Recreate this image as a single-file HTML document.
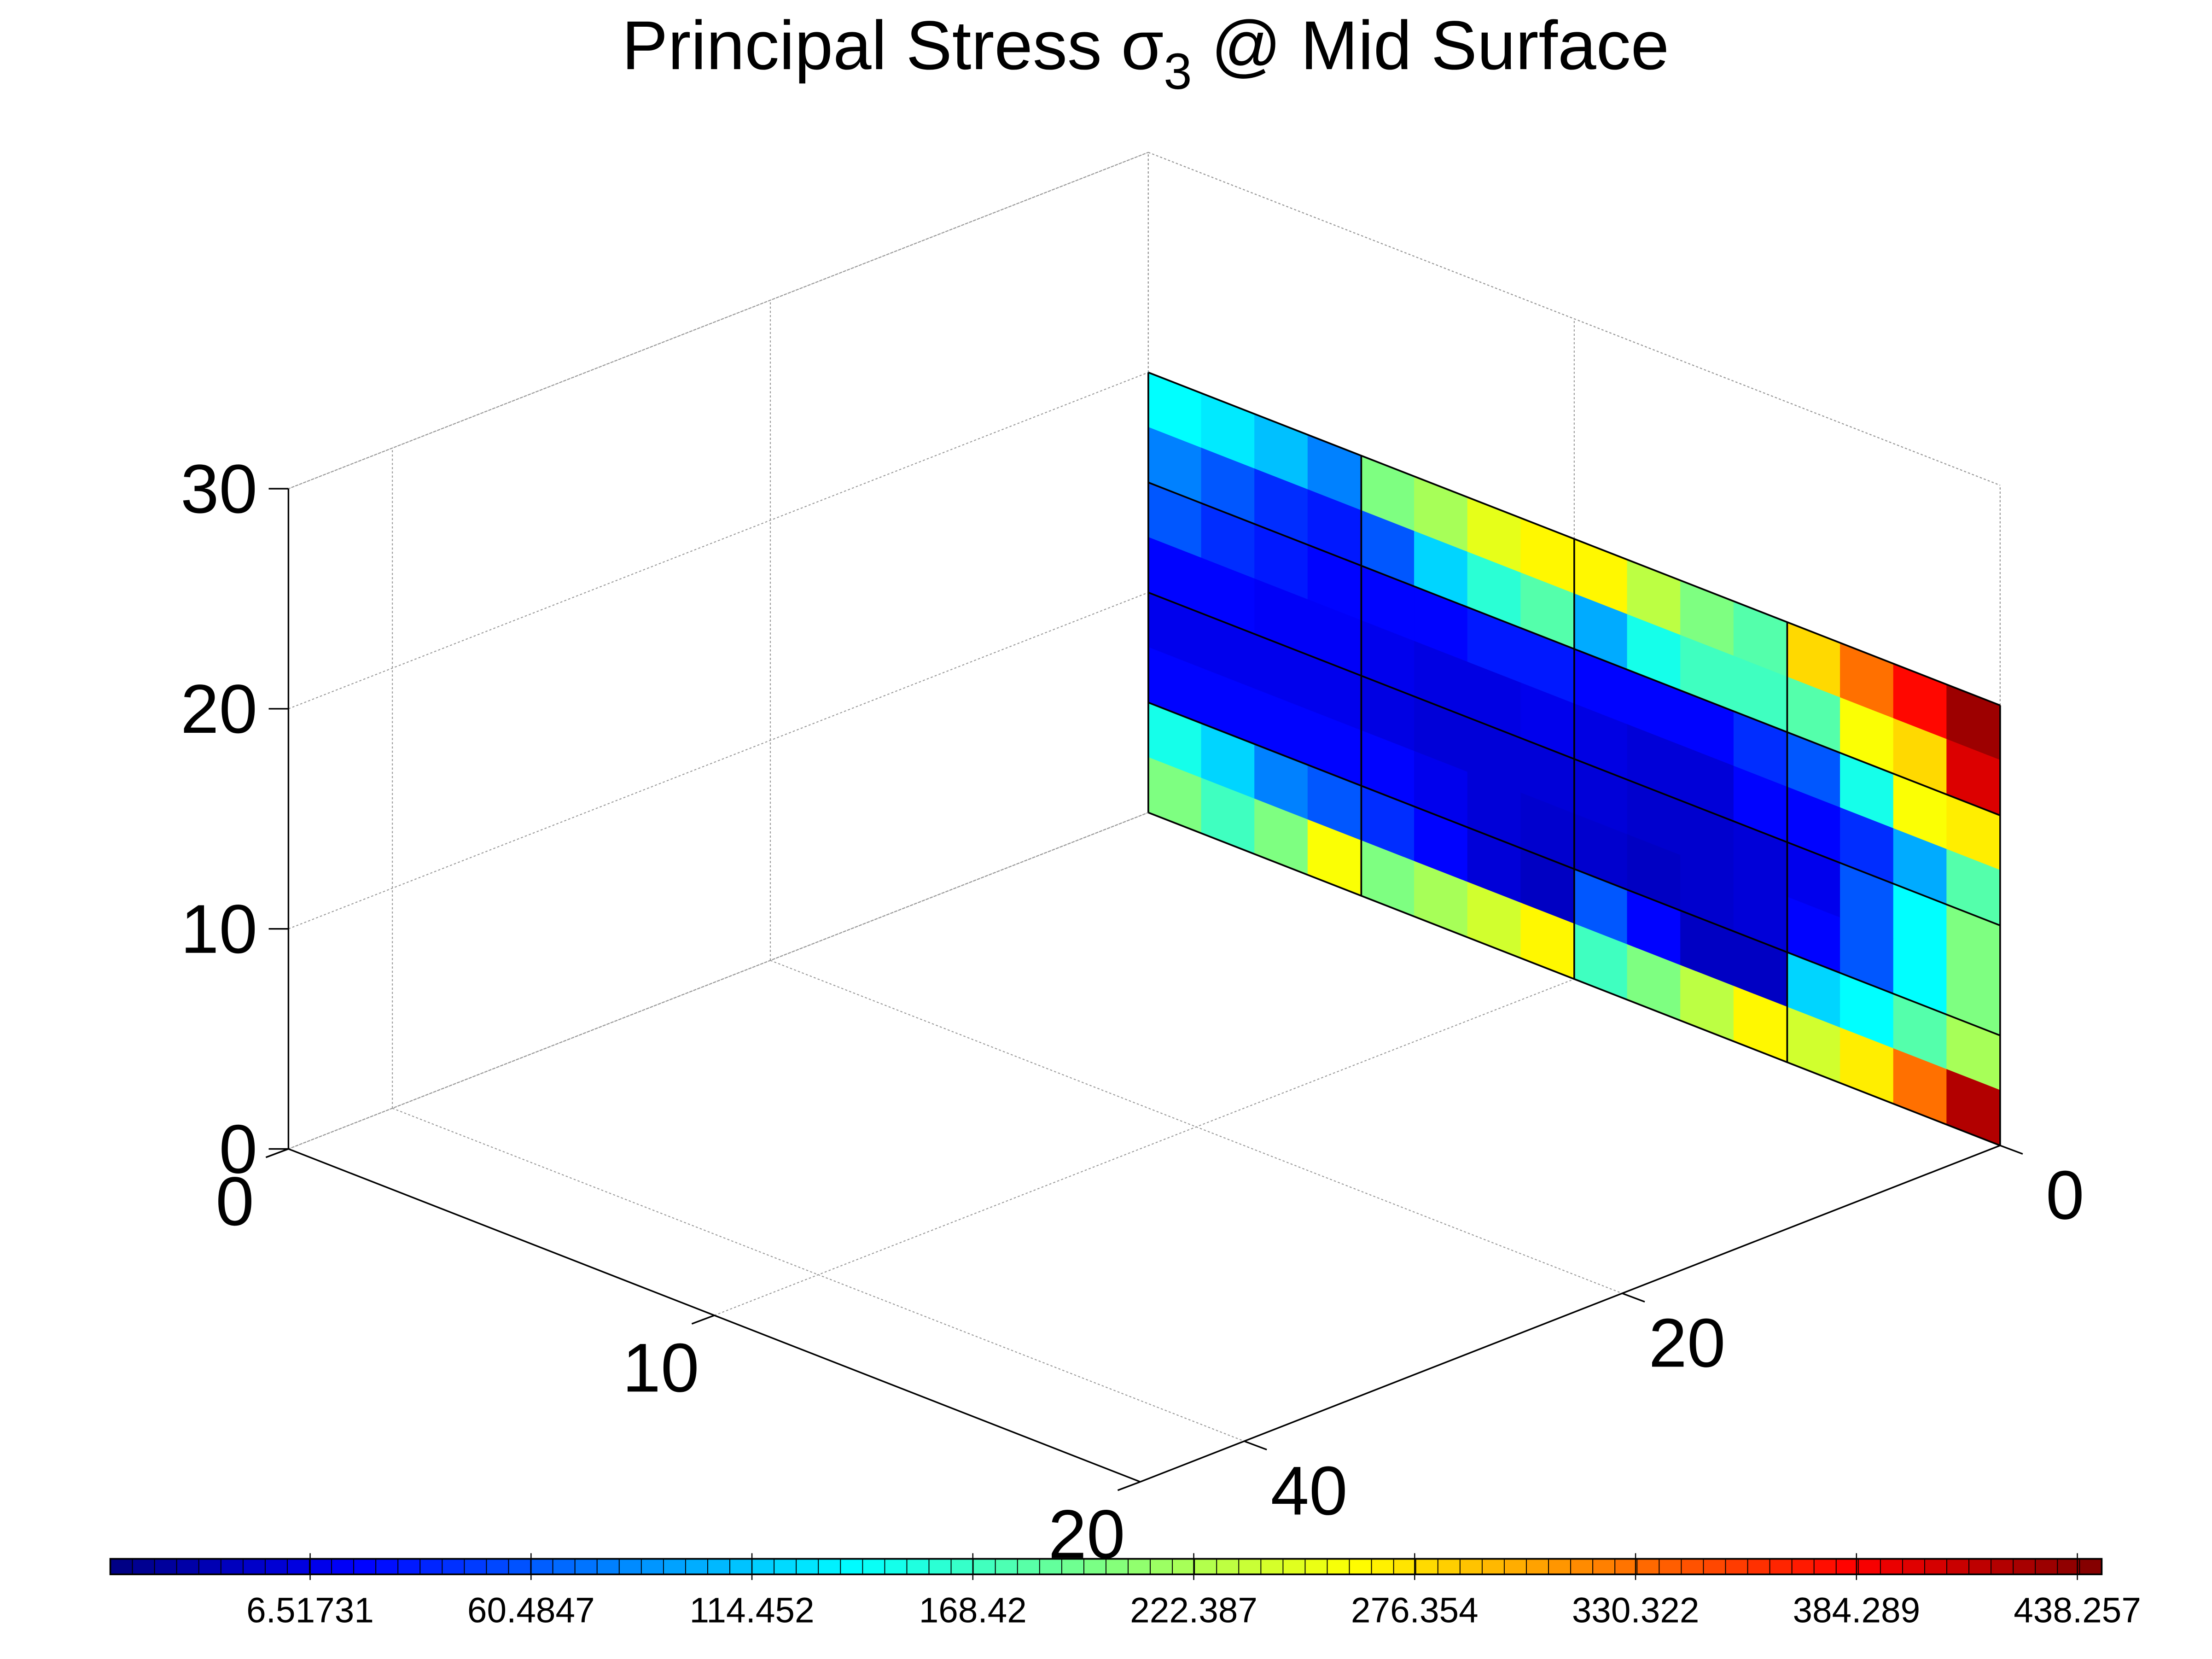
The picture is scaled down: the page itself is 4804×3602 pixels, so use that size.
<!DOCTYPE html>
<html><head><meta charset="utf-8">
<style>
html,body{margin:0;padding:0;background:#fff;}
svg{display:block;}
text{font-family:"Liberation Sans",sans-serif;fill:#000;}
</style></head>
<body>
<svg id="chart" width="4804" height="3602" viewBox="0 0 1568 1176" xmlns="http://www.w3.org/2000/svg">
<rect x="0" y="0" width="1568" height="1176" fill="#fff"/>
<text x="812" y="49" font-size="49" text-anchor="middle">Principal Stress σ<tspan font-size="36" dy="14">3</tspan><tspan dy="-14"> @ Mid Surface</tspan></text>
<g id="grid"></g>
<g id="plate"></g>
<g id="axes"></g>
<g id="cbar"></g>
</svg>
<script>
const xTicks=[0,10,20];
const yTicks=[0,20,40];
const zTicks=[0,10,20,30];
const xMax=20, yMax=45.5, zMax=30;
const plateX=[0,20], plateZ=[0,20];
const elemLines=[0,5,10,15,20];
// stress values: 8 rows (top z=20 to bottom z=0) x 16 columns (x=0..20)
const stressRows=[
[140,130,110,80, 200,220,250,265, 265,230,200,180, 280,330,380,430],
[80,60,40,30, 60,120,160,180, 100,150,170,170, 180,260,280,400],
[60,40,30,20, 20,20,30,30, 20,20,20,40, 60,150,260,270],
[20,20,15,15, 10,5,5,10, 5,0,0,20, 20,40,100,180],
[10,10,10,10, 5,0,0,0, 0,-5,-5,0, 10,60,140,200],
[20,20,20,20, 20,10,0,-5, -5,-10,-5,0, 20,60,140,200],
[150,120,80,60, 40,20,0,-10, 60,20,-10,-10, 120,140,180,220],
[200,170,200,260, 200,220,240,265, 170,200,230,265, 240,270,330,420]
];
const cbarLabels=["6.51731","60.4847","114.452","168.42","222.387","276.354","330.322","384.289","438.257"];
const cbarValues=[6.51731,60.4847,114.452,168.42,222.387,276.354,330.322,384.289,438.257];
const cMin=-42.3, cMax=444.2, nSwatch=90;

const NS="http://www.w3.org/2000/svg";
function P(x,y,z){return [814+30.2*x-13.4*y, 576+11.8*x+5.24*y-15.6*z];}
function el(tag,attrs,parent){const e=document.createElementNS(NS,tag);for(const k in attrs)e.setAttribute(k,attrs[k]);parent.appendChild(e);return e;}
function jet(t){t=Math.max(0,Math.min(1,t));
 const r=Math.max(0,Math.min(1,Math.min(4*t-1.5,-4*t+4.5)));
 const g=Math.max(0,Math.min(1,Math.min(4*t-0.5,-4*t+3.5)));
 const b=Math.max(0,Math.min(1,Math.min(4*t+0.5,-4*t+2.5)));
 return `rgb(${Math.round(r*255)},${Math.round(g*255)},${Math.round(b*255)})`;}
function pts(a){return a.map(p=>p.join(',')).join(' ');}
const grid=document.getElementById('grid'),plate=document.getElementById('plate'),axes=document.getElementById('axes'),cbar=document.getElementById('cbar');
const gs={stroke:'#999','stroke-width':0.7,'stroke-dasharray':'1.5 1.5',fill:'none'};
function gline(a,b,name){const l=el('line',Object.assign({x1:a[0],y1:a[1],x2:b[0],y2:b[1]},gs),grid);
 
 }
gline(P(0,0,0),P(0,0,zMax),'box-edge');gline(P(0,0,zMax),P(0,yMax,zMax),'box-edge');gline(P(0,0,zMax),P(xMax,0,zMax),'box-edge');
gline(P(xMax,0,0),P(xMax,0,zMax),'box-edge');gline(P(0,0,0),P(xMax,0,0),'box-edge');gline(P(0,0,0),P(0,yMax,0),'box-edge');
zTicks.forEach(z=>{gline(P(0,yMax,z),P(0,0,z),'z-grid');gline(P(0,0,z),P(xMax,0,z),'z-grid');});
xTicks.forEach(x=>{gline(P(x,yMax,0),P(x,0,0),'x-grid');gline(P(x,0,0),P(x,0,zMax),'x-grid');});
yTicks.forEach(y=>{gline(P(0,y,0),P(xMax,y,0),'y-grid');gline(P(0,y,0),P(0,y,zMax),'y-grid');});
const nr=stressRows.length,nc=stressRows[0].length;
const dx=(plateX[1]-plateX[0])/nc, dz=(plateZ[1]-plateZ[0])/nr;
stressRows.forEach((row,r)=>row.forEach((v,c)=>{
 const x0=plateX[0]+c*dx,x1=x0+dx,z1=plateZ[1]-r*dz,z0=z1-dz;
 const col=jet((v-cMin)/(cMax-cMin));
 const p=el('polygon',{points:pts([P(x0,0,z0),P(x1,0,z0),P(x1,0,z1),P(x0,0,z1)]),fill:col,stroke:col,'stroke-width':0.6},plate);
 
 
}));
elemLines.forEach(v=>{
 const a=el('line',{x1:P(v,0,0)[0],y1:P(v,0,0)[1],x2:P(v,0,20)[0],y2:P(v,0,20)[1],stroke:'#000','stroke-width':1.2},plate);
 
 
 const b=el('line',{x1:P(0,0,v)[0],y1:P(0,0,v)[1],x2:P(20,0,v)[0],y2:P(20,0,v)[1],stroke:'#000','stroke-width':1.2},plate);
 
 
});
function aline(a,b,name){const l=el('line',{x1:a[0],y1:a[1],x2:b[0],y2:b[1],stroke:'#000','stroke-width':1.1},axes);
 
 }
aline(P(0,yMax,0),P(0,yMax,zMax),'z-axis-line');
aline(P(0,yMax,0),P(xMax,yMax,0),'x-axis-line');
aline(P(xMax,yMax,0),P(xMax,0,0),'y-axis-line');
zTicks.forEach(z=>{const p=P(0,yMax,z);aline(p,[p[0]-14,p[1]],'z-tick');
 const t=el('text',{x:p[0]-22,y:p[1]+17,'font-size':49,'text-anchor':'end'},axes);t.textContent=z;
 
 });
xTicks.forEach(x=>{const p=P(x,yMax,0);aline(p,[p[0]-16,p[1]+6],'x-tick');
 const t=el('text',{x:p[0]-38,y:p[1]+54,'font-size':49,'text-anchor':'middle'},axes);t.textContent=x;
 
 });
yTicks.forEach(y=>{const p=P(xMax,y,0);aline(p,[p[0]+16,p[1]+6],'y-tick');
 const t=el('text',{x:p[0]+46,y:p[1]+52,'font-size':49,'text-anchor':'middle'},axes);t.textContent=y;
 
 });
const cbX0=78,cbX1=1490,cbY=1105,cbH=11;
const cx=v=>cbX0+(v-cMin)/(cMax-cMin)*(cbX1-cbX0);
const sw=(cbX1-cbX0)/nSwatch;
for(let i=0;i<nSwatch;i++){const r=el('rect',{x:cbX0+i*sw,y:cbY,width:sw,height:cbH,fill:jet((i+0.5)/nSwatch),stroke:'#000','stroke-width':0.6},cbar);
 
 }
const fr=el('rect',{x:cbX0,y:cbY,width:cbX1-cbX0,height:cbH,fill:'none',stroke:'#000','stroke-width':1.2},cbar);


cbarValues.forEach((v,i)=>{const x=cx(v);
 const l=el('line',{x1:x,y1:cbY-4,x2:x,y2:cbY+cbH+4,stroke:'#000','stroke-width':0.8},cbar);
 
 
 const t=el('text',{x:x,y:1150,'font-size':25,'text-anchor':'middle'},cbar);t.textContent=cbarLabels[i];
 
 });
</script>
</body></html>
